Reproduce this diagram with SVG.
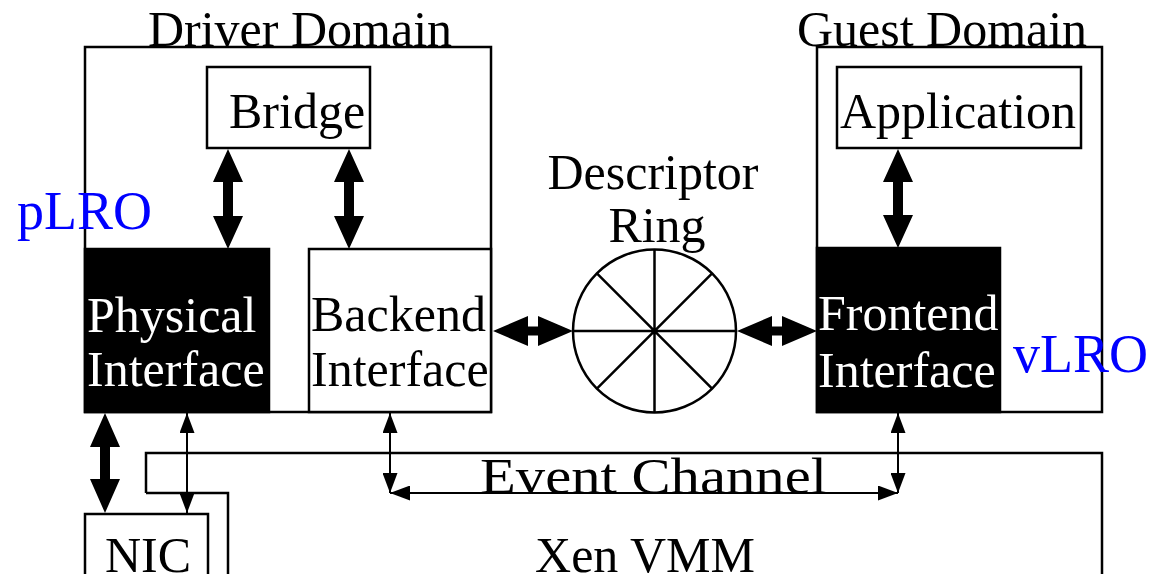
<svg xmlns="http://www.w3.org/2000/svg" width="1151" height="574" viewBox="0 0 1151 574">
  <style>
    .box { fill: #ffffff; stroke: #000000; stroke-width: 2.5; }
    .dark { fill: #000000; stroke: #000000; stroke-width: 2.5; }
    .wire { fill: none; stroke: #000000; stroke-width: 2.5; }
    .thin { fill: none; stroke: #000000; stroke-width: 2; marker-start: url(#head); marker-end: url(#head); }
    .fat { fill: #000000; stroke: none; }
    .lbl { font-family: "Liberation Serif", "Times New Roman", serif; font-size: 50px; fill: #000000; }
    .inv { fill: #ffffff; }
    .lro { fill: #0000ff; font-size: 54px; }
  </style>
  <defs>
    <marker id="head" viewBox="0 0 20 15" refX="20" refY="7.5" markerWidth="20" markerHeight="15" markerUnits="userSpaceOnUse" orient="auto-start-reverse">
      <path d="M0,0 L20,7.5 L0,15 Z" fill="#000000"/>
    </marker>
  </defs>

  <rect width="1151" height="574" fill="#ffffff"/>

  <!-- hypervisor outline -->
  <g id="xen-vmm">
    <path class="wire" d="M146,493 L146,453 L1102,453 L1102,580 M146,493 L228,493 L228,580"/>
    <text class="lbl" x="645" y="572" text-anchor="middle">Xen VMM</text>
  </g>

  <g id="driver-domain">
    <rect class="box" x="85" y="47" width="406" height="365"/>
    <text class="lbl" x="300" y="46" text-anchor="middle">Driver Domain</text>
  </g>

  <g id="guest-domain">
    <rect class="box" x="817" y="47" width="285" height="365"/>
    <text class="lbl" x="942" y="46" text-anchor="middle">Guest Domain</text>
  </g>

  <g id="bridge">
    <rect class="box" x="207" y="67" width="163" height="81"/>
    <text class="lbl" x="229" y="128">Bridge</text>
  </g>

  <g id="application">
    <rect class="box" x="837" y="67" width="244" height="81"/>
    <text class="lbl" x="840" y="128">Application</text>
  </g>

  <g id="physical-interface">
    <rect class="dark" x="85" y="249" width="184" height="163"/>
    <text class="lbl inv" x="87" y="332">Physical</text>
    <text class="lbl inv" x="87" y="386">Interface</text>
  </g>

  <g id="backend-interface">
    <rect class="box" x="309" y="249" width="182" height="163"/>
    <text class="lbl" x="311" y="331">Backend</text>
    <text class="lbl" x="311" y="386">Interface</text>
  </g>

  <g id="frontend-interface">
    <rect class="dark" x="817" y="248" width="183" height="164"/>
    <text class="lbl inv" x="818" y="330">Frontend</text>
    <text class="lbl inv" x="818" y="387">Interface</text>
  </g>

  <g id="descriptor-ring">
    <text class="lbl" x="653" y="189" text-anchor="middle">Descriptor</text>
    <text class="lbl" x="657" y="242" text-anchor="middle">Ring</text>
    <circle class="wire" cx="654.5" cy="331" r="81.5"/>
    <path class="wire" d="M573,331 H736 M654.5,249.5 V412.5 M596.9,273.4 L712.1,388.6 M712.1,273.4 L596.9,388.6"/>
  </g>

  <g id="nic">
    <rect class="box" x="85" y="514" width="123" height="80"/>
    <text class="lbl" x="148" y="572" text-anchor="middle">NIC</text>
  </g>

  <g id="lro-labels">
    <text class="lbl lro" x="17" y="229">pLRO</text>
    <text class="lbl lro" x="1013" y="372">vLRO</text>
  </g>

  <g id="connectors">
    <!-- wide data paths -->
    <polygon class="fat" points="228,149 243,182 233,182 233,216 243,216 228,249 213,216 223,216 223,182 213,182"/>
    <polygon class="fat" points="349,149 364,182 354,182 354,216 364,216 349,249 334,216 344,216 344,182 334,182"/>
    <polygon class="fat" points="898,149 913,182 903,182 903,215 913,215 898,248 883,215 893,215 893,182 883,182"/>
    <polygon class="fat" points="105,413 120,447 110,447 110,479 120,479 105,513 90,479 100,479 100,447 90,447"/>
    <polygon class="fat" points="493,331 528,316 528,326.5 538,326.5 538,316 573,331 538,346 538,335.5 528,335.5 528,346"/>
    <polygon class="fat" points="737,331 772,316 772,326.5 782,326.5 782,316 817,331 782,346 782,335.5 772,335.5 772,346"/>
    <!-- control paths -->
    <line class="thin" x1="187" y1="413" x2="187" y2="513"/>
    <line class="thin" x1="390" y1="413" x2="390" y2="493"/>
    <line class="thin" x1="898" y1="413" x2="898" y2="493"/>
    <line class="thin" x1="390" y1="493" x2="898" y2="493"/>
    <text class="lbl" x="480" y="493" font-size="54" textLength="347" lengthAdjust="spacingAndGlyphs">Event Channel</text>
  </g>
</svg>
